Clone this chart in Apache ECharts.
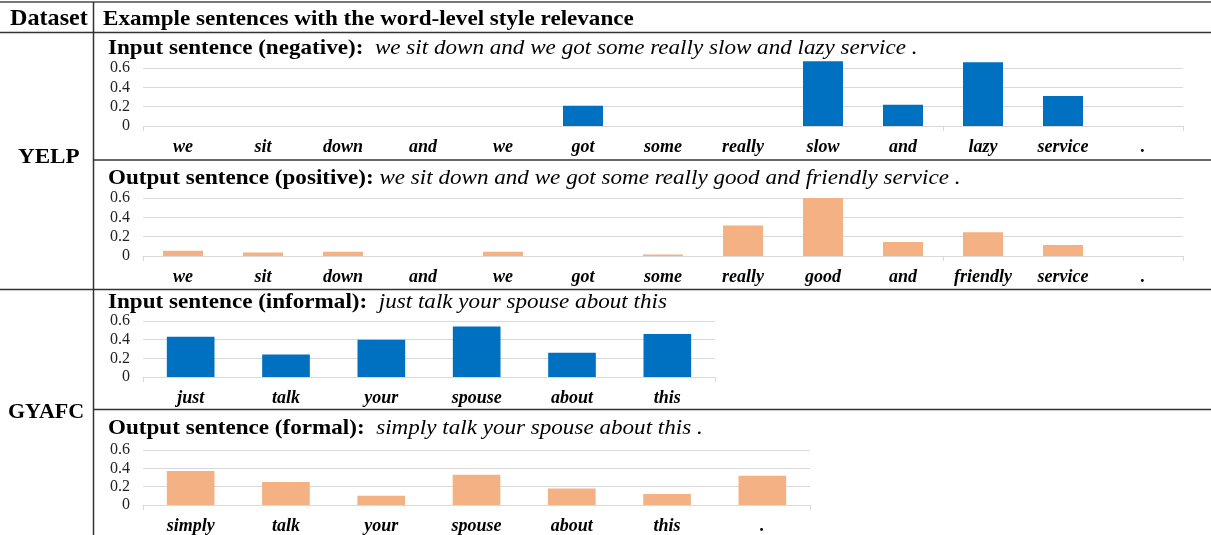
<!DOCTYPE html>
<html>
<head>
<meta charset="utf-8">
<script src="https://cdn.jsdelivr.net/npm/echarts@6/dist/echarts.min.js"></script>
<style>
  html, body { margin: 0; padding: 0; background: #fff; }
  #main { width: 1211px; height: 535px; }
</style>
</head>
<body>
<div id="main"></div>
<script>
// word-level style relevance
var yelpNegWords = ['we', 'sit', 'down', 'and', 'we', 'got', 'some', 'really', 'slow', 'and', 'lazy', 'service', '.'];
var yelpNegScores = [0, 0, 0, 0, 0, 0.21, 0, 0, 0.67, 0.22, 0.66, 0.31, 0];

var yelpPosWords = ['we', 'sit', 'down', 'and', 'we', 'got', 'some', 'really', 'good', 'and', 'friendly', 'service', '.'];
var yelpPosScores = [0.055, 0.035, 0.045, 0, 0.045, 0, 0.015, 0.315, 0.6, 0.145, 0.245, 0.115, 0];

var gyafcInWords = ['just', 'talk', 'your', 'spouse', 'about', 'this'];
var gyafcInScores = [0.43, 0.24, 0.40, 0.54, 0.26, 0.46];

var gyafcOutWords = ['simply', 'talk', 'your', 'spouse', 'about', 'this', '.'];
var gyafcOutScores = [0.37, 0.25, 0.10, 0.33, 0.18, 0.12, 0.32];

var rowTitles = [
    ['Input sentence (negative):', '  we sit down and we got some really slow and lazy service .'],
    ['Output sentence (positive):', ' we sit down and we got some really good and friendly service .'],
    ['Input sentence (informal):', '  just talk your spouse about this'],
    ['Output sentence (formal):', '  simply talk your spouse about this .']
];

var SERIF = '"Liberation Serif", "DejaVu Serif", serif';
var BLUE = '#0070C0';
var ORANGE = '#F4B183';
var STRETCH = 1.05;   // the figure's text is a bit wider than Liberation Serif

// grid boxes: [left, top, width, height]
var boxes = [
    [143, 68, 1040, 58],
    [143, 198, 1040, 58],
    [143, 321, 572, 56],
    [143, 450, 667, 57]
];
var titleY = [48, 178, 302, 428];
var tickAt = [[0, 10], [0, 10], [0], [0]];
var words = [yelpNegWords, yelpPosWords, gyafcInWords, gyafcOutWords];
var scores = [yelpNegScores, yelpPosScores, gyafcInScores, gyafcOutScores];
var colors = [BLUE, ORANGE, BLUE, ORANGE];

var grids = [], xAxes = [], yAxes = [], series = [], texts = [];

function label(txt, x, y, font, sx) {
    return {
        type: 'text', x: x, y: y, scaleX: sx || STRETCH, silent: true,
        style: { text: txt, font: font, fill: '#000', verticalAlign: 'middle' }
    };
}

boxes.forEach(function (b, i) {
    grids.push({ left: b[0], top: b[1], width: b[2], height: b[3] });
    xAxes.push({
        type: 'category',
        gridIndex: i,
        data: words[i],
        axisLine: { lineStyle: { color: '#d9d9d9', width: 1 } },
        axisTick: {
            show: true,
            length: 5,
            lineStyle: { color: '#d9d9d9' },
            interval: (function (keep) {
                return function (idx) { return keep.indexOf(idx) >= 0; };
            })(tickAt[i])
        },
        axisLabel: {
            interval: 0,
            margin: 12,
            color: '#000',
            fontFamily: SERIF,
            fontStyle: 'italic',
            fontWeight: 'bold',
            fontSize: 18
        }
    });
    yAxes.push({
        type: 'value',
        gridIndex: i,
        min: 0,
        max: 0.6,
        interval: 0.2,
        axisLine: { show: false },
        axisTick: { show: false },
        splitLine: { lineStyle: { color: '#d9d9d9', width: 1 } },
        axisLabel: {
            margin: 13,
            color: '#222',
            fontFamily: SERIF,
            fontSize: 16,
            formatter: function (v) { return v === 0 ? '0' : v.toFixed(1); }
        }
    });
    series.push({
        type: 'bar',
        xAxisIndex: i,
        yAxisIndex: i,
        data: scores[i],
        barCategoryGap: '50%',
        clip: false,
        itemStyle: { color: colors[i] },
        silent: true
    });
    texts.push({
        type: 'text', x: 108, y: titleY[i], scaleX: STRETCH, silent: true,
        style: {
            text: '{b|' + rowTitles[i][0] + '}{i|' + rowTitles[i][1] + '}',
            verticalAlign: 'middle',
            rich: {
                b: { fontFamily: SERIF, fontWeight: 'bold', fontSize: 22, fill: '#000' },
                i: { fontFamily: SERIF, fontStyle: 'italic', fontWeight: 'normal', fontSize: 22, fill: '#000' }
            }
        }
    });
});

var rules = [
    [0, 2, 1211, 2, '#777', 2],
    [0, 32.5, 1211, 32.5, '#333', 1.5],
    [93.5, 2, 93.5, 535, '#333', 1.5],
    [93, 160, 1211, 160, '#333', 1.5],
    [0, 289.5, 1211, 289.5, '#333', 1.5],
    [93, 409.5, 1211, 409.5, '#333', 1.5]
];
rules.forEach(function (r) {
    texts.push({
        type: 'line', silent: true,
        shape: { x1: r[0], y1: r[1], x2: r[2], y2: r[3] },
        style: { stroke: r[4], lineWidth: r[5] }
    });
});

texts.push(label('Dataset', 10, 19, 'bold 23px ' + SERIF));
texts.push(label('Example sentences with the word-level style relevance', 103, 19, 'bold 22px ' + SERIF));
texts.push(label('YELP', 18, 157, 'bold 22px ' + SERIF));
texts.push(label('GYAFC', 8, 412, 'bold 22px ' + SERIF, 1.0));

var myChart = echarts.init(document.getElementById('main'));
myChart.setOption({
    animation: false,
    grid: grids,
    xAxis: xAxes,
    yAxis: yAxes,
    series: series,
    graphic: texts
});
</script>
</body>
</html>
